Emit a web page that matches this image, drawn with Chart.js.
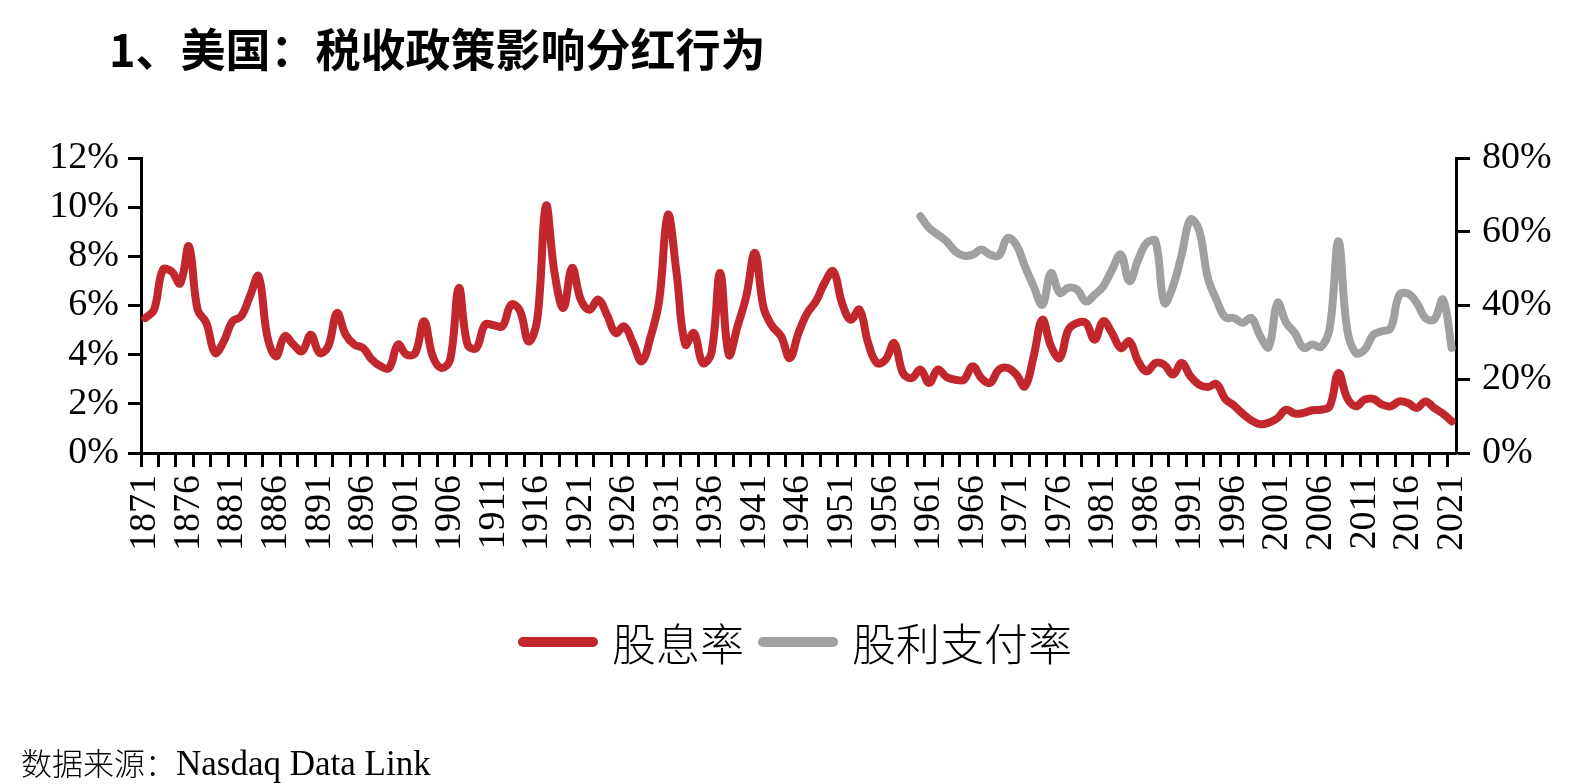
<!DOCTYPE html>
<html>
<head>
<meta charset="utf-8">
<script src="https://cdn.jsdelivr.net/npm/chart.js@4.4.0/dist/chart.umd.min.js"></script>
<style>
html,body{margin:0;padding:0;background:#fff;}
#wrap{position:relative;width:1588px;height:784px;overflow:hidden;background:#fff;}
#c{position:absolute;left:0;top:0;}
#title{position:absolute;left:109px;top:25px;font-family:"Noto Sans CJK SC";font-weight:700;font-size:45px;line-height:45px;color:#000;white-space:nowrap;}
#legend{position:absolute;left:518px;top:620px;height:44px;display:flex;align-items:center;font-family:"Noto Sans CJK SC";font-weight:300;font-size:44px;line-height:44px;color:#000;white-space:nowrap;}
.sw{display:inline-block;width:80px;height:10px;border-radius:5px;margin-right:14px;}
#source{position:absolute;left:21px;top:744px;font-family:"Liberation Serif","Noto Sans CJK SC";font-size:35px;line-height:36px;color:#000;white-space:nowrap;}
#source .cn{font-family:"Noto Sans CJK SC";font-weight:300;font-size:31px;}
</style>
</head>
<body>
<div id="wrap">
<canvas id="c" width="1588" height="784"></canvas>
<div id="title">1、美国：税收政策影响分红行为</div>
<div id="legend"><span class="sw" style="background:#C1272D"></span><span>股息率</span><span class="sw" style="background:#A0A0A0;margin-left:14px"></span><span>股利支付率</span></div>
<div id="source"><span class="cn">数据来源：</span>Nasdaq Data Link</div>
</div>
<script>
// Categories: years 1871..2021
const startYear = 1871;
const endYear = 2021;
const years = [];
for (let y = startYear; y <= endYear; y++) years.push(String(y));

// 股息率 (%), 1871..2021
const dividendYield = [
  5.49, 5.83, 7.45, 7.39, 6.90, 8.41, 5.83, 5.29, 4.07, 4.54,   // 1871-1880
  5.36, 5.56, 6.37, 7.19, 4.75, 3.93, 4.75, 4.41, 4.14, 4.81,   // 1881-1890
  4.07, 4.34, 5.69, 4.81, 4.41, 4.27, 3.80, 3.53, 3.46, 4.41,   // 1891-1900
  4.00, 4.07, 5.36, 3.93, 3.46, 3.80, 6.71, 4.41, 4.27, 5.22,   // 1901-1910
  5.20, 5.15, 6.03, 5.80, 4.54, 5.42, 10.05, 7.30, 5.90, 7.53,  // 1911-1920
  6.24, 5.83, 6.24, 5.63, 4.88, 5.15, 4.47, 3.73, 4.70, 6.20,   // 1921-1930
  9.69, 7.32, 4.41, 4.88, 3.66, 4.07, 7.32, 4.00, 5.15, 6.37,   // 1931-1940
  8.14, 5.90, 5.15, 4.75, 3.86, 4.88, 5.69, 6.17, 6.92, 7.39,   // 1941-1950
  6.10, 5.42, 5.83, 4.47, 3.66, 3.80, 4.47, 3.25, 3.05, 3.39,   // 1951-1960
  2.85, 3.39, 3.09, 2.98, 2.98, 3.53, 3.05, 2.85, 3.39, 3.46,   // 1961-1970
  3.19, 2.71, 3.93, 5.42, 4.34, 3.86, 5.02, 5.29, 5.29, 4.61,   // 1971-1980
  5.36, 4.88, 4.27, 4.54, 3.73, 3.32, 3.66, 3.59, 3.19, 3.66,   // 1981-1990
  3.12, 2.78, 2.68, 2.80, 2.20, 1.93, 1.60, 1.33, 1.17, 1.23,   // 1991-2000
  1.42, 1.76, 1.60, 1.63, 1.74, 1.76, 1.90, 3.25, 2.24, 1.90,   // 2001-2010
  2.17, 2.20, 1.97, 1.90, 2.10, 2.03, 1.83, 2.10, 1.83, 1.60,   // 2011-2020
  1.29                                                          // 2021
];

// 股利支付率 (%), starts 1960
const payoutStartYear = 1960;
const payoutValues = [
  64.2, 61.0, 59.2, 57.4, 54.7, 53.5, 53.8, 55.2, 53.8, 53.5,   // 1960-1969
  58.3, 56.5, 50.6, 45.2, 40.2, 48.8, 43.4, 44.8, 44.3, 41.1,   // 1970-1979
  42.9, 45.2, 49.7, 53.8, 46.6, 52.4, 57.0, 57.4, 40.7, 45.2,   // 1980-1989
  53.8, 63.3, 60.4, 47.5, 41.5, 36.8, 36.6, 35.3, 36.6, 31.8,   // 1990-1999
  28.7, 40.7, 35.3, 32.5, 28.5, 29.4, 28.8, 33.9, 57.4, 33.5,   // 2000-2009
  27.1, 28.0, 32.1, 33.0, 33.9, 42.9, 43.2, 40.7, 36.6, 36.2,   // 2010-2019
  41.6, 28.5                                                    // 2020-2021
];
const payout = years.map(y => {
  const i = Number(y) - payoutStartYear;
  return i >= 0 ? payoutValues[i] : null;
});

// Axis ticks
const leftTicks = {min: 0, max: 12, step: 2};
const rightTicks = {min: 0, max: 80, step: 20};
const labelEvery = 5;
const tickEvery = 2;

const RED = '#C1272D';
const GREY = '#A0A0A0';
const BLACK = '#000';
const tickFont = {family: 'Liberation Serif', size: 38};

new Chart(document.getElementById('c'), {
  type: 'line',
  data: {
    labels: years,
    datasets: [
      {label: '股息率', data: dividendYield, yAxisID: 'y', borderColor: RED, backgroundColor: RED,
       borderWidth: 8, pointRadius: 0, tension: 0.4, borderCapStyle: 'round', borderJoinStyle: 'round', fill: false},
      {label: '股利支付率', data: payout, yAxisID: 'y1', borderColor: GREY, backgroundColor: GREY,
       borderWidth: 8, pointRadius: 0, tension: 0.4, borderCapStyle: 'round', borderJoinStyle: 'round', fill: false, spanGaps: false}
    ]
  },
  options: {
    responsive: false,
    animation: false,
    devicePixelRatio: 1,
    layout: {padding: {top: 158, left: 0, right: 0, bottom: 0}},
    plugins: {legend: {display: false}, tooltip: {enabled: false}, title: {display: false}},
    scales: {
      x: {
        type: 'category',
        offset: true,
        grid: {display: true, offset: true, drawOnChartArea: false, drawTicks: true, tickLength: 14, tickWidth: 3,
               tickColor: c => (c.index % tickEvery === 0 ? BLACK : 'rgba(0,0,0,0)')},
        border: {display: true, color: BLACK, width: 3},
        ticks: {autoSkip: false, maxRotation: 90, minRotation: 90, padding: 8, color: BLACK, font: tickFont,
                callback: function (v, i) { return i % labelEvery === 0 ? this.getLabelForValue(v) : ''; }},
        afterFit: s => { s.height = 331; }
      },
      y: {
        position: 'left', min: leftTicks.min, max: leftTicks.max,
        grid: {drawOnChartArea: false, drawTicks: true, tickLength: 13, tickWidth: 3, tickColor: BLACK, color: BLACK},
        border: {display: true, color: BLACK, width: 3},
        ticks: {stepSize: leftTicks.step, padding: 9, color: BLACK, font: tickFont, callback: v => v + '%'},
        afterFit: s => { s.width = 141; }
      },
      y1: {
        position: 'right', min: rightTicks.min, max: rightTicks.max,
        grid: {drawOnChartArea: false, drawTicks: true, tickLength: 14, tickWidth: 3, tickColor: BLACK, color: BLACK},
        border: {display: true, color: BLACK, width: 3},
        ticks: {stepSize: rightTicks.step, padding: 12, color: BLACK, font: tickFont, callback: v => v + '%'},
        afterFit: s => { s.width = 132; }
      }
    }
  }
});
</script>
</body>
</html>
